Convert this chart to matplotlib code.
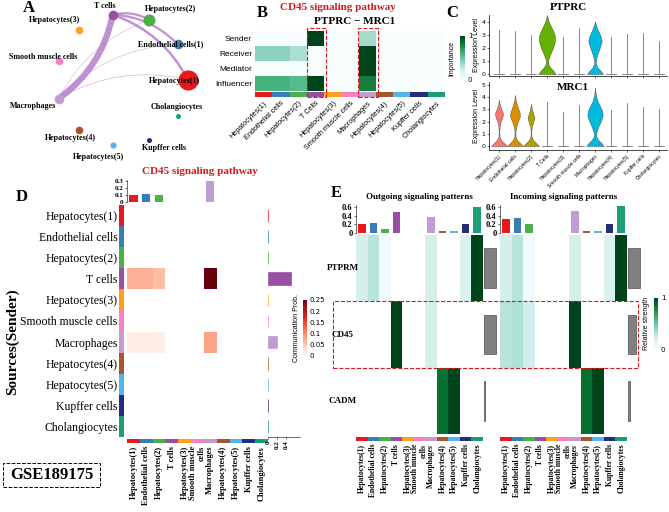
import numpy as np
import matplotlib
import matplotlib.pyplot as plt
from matplotlib.patches import Rectangle, FancyArrowPatch
from matplotlib.cm import ScalarMappable
from matplotlib.colors import Normalize

W, H = 669, 512
SERIF = 'Liberation Serif'
SANS = 'Liberation Sans'

# ---- shared cell types ----
cells = ['Hepatocytes(1)', 'Endothelial cells', 'Hepatocytes(2)', 'T cells', 'Hepatocytes(3)',
         'Smooth muscle cells', 'Macrophages', 'Hepatocytes(4)', 'Hepatocytes(5)', 'Kupffer cells',
         'Cholangiocytes']
cell_colors = ['#E41A1C', '#377EB8', '#4DAF4A', '#984EA3', '#FF9F1C', '#F781BF', '#C29BD2',
               '#A65628', '#56B4E9', '#222E78', '#1B9E77']
col_labels = ['Hepatocytes(1)', 'Endothelial cells', 'Hepatocytes(2)', 'T cells', 'Hepatocytes(3)',
              'Smooth muscle\ncells', 'Macrophages', 'Hepatocytes(4)', 'Hepatocytes(5)', 'Kupffer cells',
              'Cholangiocytes']

# ---- A: network ----
net_order = ['Hepatocytes(1)', 'Cholangiocytes', 'Kupffer cells', 'Hepatocytes(5)', 'Hepatocytes(4)',
             'Macrophages', 'Smooth muscle cells', 'Hepatocytes(3)', 'T cells', 'Hepatocytes(2)',
             'Endothelial cells']
node_size = [210, 48, 75, 48, 30, 30, 48, 30, 20, 13, 13]
edges = [('T cells', 'Macrophages', 4.5), ('T cells', 'Hepatocytes(2)', 1.6),
         ('T cells', 'Endothelial cells', 1.6), ('T cells', 'Hepatocytes(1)', 1.8),
         ('Macrophages', 'Hepatocytes(2)', 0.5), ('Macrophages', 'Endothelial cells', 0.5),
         ('Macrophages', 'Hepatocytes(1)', 0.6)]
net_names = {'Endothelial cells': 'Endothelial cells(1)'}
label_off = {'T cells': (-7.5, -9), 'Hepatocytes(2)': (21.5, -11), 'Hepatocytes(3)': (-24, -10),
             'Endothelial cells': (-6.5, 0), 'Smooth muscle cells': (-15.5, -4.5),
             'Hepatocytes(1)': (-13, 1), 'Macrophages': (-25.5, 7.5), 'Cholangiocytes': (-1, -8.7),
             'Hepatocytes(4)': (-8, 8), 'Hepatocytes(5)': (-14.5, 11.5), 'Kupffer cells': (14.5, 8)}

# ---- B: roles heatmap ----
roles = ['Sender', 'Receiver', 'Mediator', 'Influencer']
sender = [0, 0, 0, 1.0, 0, 0, 0.35, 0, 0, 0, 0]
receiver = [0.4, 0.4, 0.33, 0, 0, 0, 1.0, 0, 0, 0, 0]
mediator = [0, 0, 0, 0, 0, 0, 1.0, 0, 0, 0, 0]
influencer = [0.6, 0.6, 0.55, 1.0, 0, 0, 0.8, 0, 0, 0, 0]
B_labels = ['Hepatocytes(1)', 'Endothelial cells', 'Hepatocytes(2)', 'T Cells', 'Hepatocytes(3)',
            'Smooth muscle cells', 'Macrophages', 'Hepatocytes(4)', 'Hepatocytes(5)', 'Kupffer cells',
            'Cholangiocytes']

# ---- C: violins ----
hue = ['#F8766D', '#DB8E00', '#AEA200', '#64B200', '#00BD5C', '#00C1A7', '#00BADE', '#00A6FF',
       '#B385FF', '#EF67EB', '#FF63B6']
ptprc_max = [3.35, 3.3, 3.0, 4.5, 2.8, 3.5, 4.0, 2.8, 3.05, 3.15, 2.5]
mrc1_max = [3.8, 4.2, 3.45, 3.6, 2.8, 3.4, 4.8, 2.95, 3.5, 3.2, 3.0]
ptprc_shapes = {
    3: ([0, 0.25, 0.5, 0.8, 1.1, 1.5, 2.0, 2.5, 2.9, 3.3, 3.7, 4.1, 4.5],
        [0.55, 0.4, 0.2, 0.07, 0.08, 0.2, 0.38, 0.5, 0.5, 0.38, 0.22, 0.08, 0.0]),
    6: ([0, 0.25, 0.5, 0.8, 1.1, 1.5, 2.0, 2.5, 2.9, 3.3, 3.7, 4.0],
        [0.5, 0.35, 0.15, 0.05, 0.06, 0.15, 0.3, 0.42, 0.35, 0.2, 0.07, 0.0]),
}
mrc1_shapes = {
    0: ([0, 0.2, 0.5, 0.8, 1.2, 1.6, 2.0, 2.4, 2.7, 3.0, 3.4, 3.8],
        [0.5, 0.35, 0.12, 0.03, 0.02, 0.04, 0.1, 0.22, 0.25, 0.15, 0.05, 0.0]),
    1: ([0, 0.2, 0.5, 0.8, 1.2, 1.6, 2.0, 2.4, 2.7, 3.0, 3.4, 3.8, 4.2],
        [0.5, 0.35, 0.12, 0.03, 0.03, 0.08, 0.18, 0.3, 0.3, 0.22, 0.12, 0.04, 0.0]),
    2: ([0, 0.2, 0.5, 0.8, 1.2, 1.6, 2.0, 2.3, 2.6, 3.0, 3.45],
        [0.5, 0.35, 0.12, 0.03, 0.02, 0.05, 0.15, 0.22, 0.15, 0.06, 0.0]),
    6: ([0, 0.25, 0.5, 0.8, 1.1, 1.5, 2.0, 2.5, 2.9, 3.3, 3.7, 4.2, 4.8],
        [0.55, 0.4, 0.2, 0.07, 0.08, 0.18, 0.35, 0.48, 0.45, 0.3, 0.15, 0.05, 0.0]),
}

# ---- D: communication probability ----
D_tcell_row = [0.07, 0.07, 0.06, 0, 0, 0, 0.25, 0, 0, 0, 0]
D_macro_row = [0.012, 0.012, 0.01, 0, 0, 0, 0.08, 0, 0, 0, 0]
D_top = [0.1, 0.11, 0.1, 0.003, 0.003, 0.003, 0.3, 0.003, 0.003, 0.003, 0.003]
D_right = [0.005, 0.005, 0.005, 0.5, 0.005, 0.005, 0.19, 0.005, 0.005, 0.005, 0.005]

# ---- E: signaling patterns ----
patterns = ['PTPRM', 'CD45', 'CADM']
out_ptprm = [0.2, 0.3, 0.05, 0, 0, 0, 0.2, 0, 0, 0.18, 1.0]
out_cd45 = [0, 0, 0, 1.0, 0, 0, 0.2, 0, 0, 0, 0]
out_cadm = [0, 0, 0, 0, 0, 0, 0, 0.85, 1.0, 0, 0]
in_ptprm = [0.2, 0.3, 0.05, 0, 0, 0, 0.2, 0, 0, 0.18, 1.0]
in_cd45 = [0.3, 0.32, 0.22, 0, 0, 0, 1.0, 0, 0, 0, 0]
in_cadm = [0, 0, 0, 0, 0, 0, 0, 0.85, 1.0, 0, 0]
out_top = [0.2, 0.23, 0.1, 0.48, 0.01, 0.01, 0.37, 0.04, 0.04, 0.2, 0.6]
in_top = [0.33, 0.35, 0.2, 0.01, 0.01, 0.01, 0.5, 0.04, 0.04, 0.2, 0.62]
out_side = [1.0, 1.0, 0.12]
in_side = [1.0, 0.65, 0.2]

fig = plt.figure(figsize=(6.69, 5.12), dpi=100)


def pax(x0, y0, x1, y1):
    return fig.add_axes([x0 / W, 1 - y1 / H, (x1 - x0) / W, (y1 - y0) / H])


def ftxt(x, y, s, **kw):
    fig.text(x / W, 1 - y / H, s, **kw)


def frect(x0, y0, x1, y1, **kw):
    fig.add_artist(Rectangle((x0 / W, 1 - y1 / H), (x1 - x0) / W, (y1 - y0) / H,
                             transform=fig.transFigure, fill=False, **kw))


def strip(ax, vertical=False):
    for i, c in enumerate(cell_colors):
        if vertical:
            ax.barh(i, 1, height=1, color=c)
        else:
            ax.bar(i, 1, width=1, color=c)
    if vertical:
        ax.set_ylim(10.5, -0.5)
        ax.set_xlim(0, 1)
    else:
        ax.set_xlim(-0.5, 10.5)
        ax.set_ylim(0, 1)
    for s in ax.spines.values():
        s.set_visible(False)
    ax.set_xticks([])
    ax.set_yticks([])


def bold_labels(ax, size=6):
    ax.set_xticks(range(11))
    ax.set_xticklabels(col_labels, rotation=90, fontsize=size, fontfamily=SERIF, fontweight='bold',
                       va='top', ha='center', multialignment='right')
    ax.tick_params(axis='x', length=0, pad=2)


def colorbar(rect, cmap, vmin, vmax, ticks):
    cax = pax(*rect)
    cb = fig.colorbar(ScalarMappable(Normalize(vmin, vmax), cmap), cax=cax, ticks=ticks)
    cax.tick_params(labelsize=5, length=0, pad=2)
    cb.outline.set_visible(False)
    return cb


# ================= A =================
axA = pax(0, 0, 230, 165)
axA.set_xlim(0, 230)
axA.set_ylim(165, 0)
axA.axis('off')
pos = {}
for k, name in enumerate(net_order):
    ang = 2 * np.pi * k / len(net_order)
    pos[name] = (122 + 66 * np.cos(ang), 80 + 66 * np.sin(ang))
for src, dst, lw in edges:
    p = FancyArrowPatch(pos[src], pos[dst], connectionstyle='arc3,rad=-0.2', arrowstyle='-',
                        color='#B57FCB', lw=lw, alpha=0.85 if lw > 1 else 0.5, zorder=1)
    axA.add_patch(p)
for i, name in enumerate(cells):
    x, y = pos[name]
    axA.scatter(x, y, s=node_size[i], color=cell_colors[i], zorder=3, lw=0)
    dx, dy = label_off[name]
    axA.text(x + dx, y + dy, net_names.get(name, name), ha='center', va='center', fontsize=5.8,
             fontfamily=SERIF, fontweight='bold', zorder=4)
ftxt(29, 8, 'A', fontsize=12, fontfamily=SERIF, fontweight='bold', ha='center', va='center')

# ================= B =================
axB = pax(255, 31, 445, 91)
axB.imshow(np.array([sender, receiver, mediator, influencer]), cmap='BuGn', vmin=0, vmax=1,
           aspect='auto', interpolation='nearest')
axB.set_xticks([])
axB.set_yticks(range(4))
axB.set_yticklabels(roles, fontsize=6, fontfamily=SANS)
axB.tick_params(axis='y', length=0, pad=2)
for s in axB.spines.values():
    s.set_visible(False)
axBs = pax(255, 92, 445, 97)
strip(axBs)
axBs.set_xticks(range(11))
axBs.set_xticklabels(B_labels, rotation=45, ha='right', rotation_mode='anchor', fontsize=5.2,
                     fontfamily=SANS)
axBs.tick_params(axis='x', length=0, pad=2)
frect(307, 28, 326, 97, ec='#D7191C', ls='--', lw=0.8)
frect(358, 28, 378, 97, ec='#D7191C', ls='--', lw=0.8)
ftxt(338, 8, 'CD45 signaling pathway', color='#D7191C', fontsize=8, fontfamily=SERIF,
     fontweight='bold', ha='center', va='center')
ftxt(355, 21, 'PTPRC − MRC1', fontsize=8, fontfamily=SERIF, fontweight='bold', ha='center', va='center')
ftxt(262, 13, 'B', fontsize=12, fontfamily=SERIF, fontweight='bold', ha='center', va='center')
colorbar((460, 36, 465, 80), 'BuGn', 0, 1, [0, 1])
ftxt(452, 58, 'Importance', rotation=90, fontsize=5, fontfamily=SANS, ha='center', va='center')


# ================= C =================
def violins(ax, maxes, shapes, ylim, ticks):
    for i in range(11):
        if i in shapes:
            yy, ww = shapes[i]
            ww = np.array(ww)
            ax.fill_betweenx(yy, i - ww, i + ww, color=hue[i], ec='#444444', lw=0.3)
        else:
            ax.plot([i, i], [0, maxes[i]], color='#555555', lw=0.5)
            ax.plot([i - 0.3, i + 0.3], [0, 0], color='#555555', lw=0.5)
    ax.set_xlim(-0.625, 10.5)
    ax.set_ylim(*ylim)
    ax.set_yticks(ticks)
    ax.tick_params(labelsize=4.5, length=1.5, width=0.4, pad=1)
    for s in ['top', 'right']:
        ax.spines[s].set_visible(False)
    for s in ['left', 'bottom']:
        ax.spines[s].set_linewidth(0.5)
    ax.set_xticks(range(11))
    ax.set_ylabel('Expression Level', fontsize=5, fontfamily=SANS, labelpad=1)


axC1 = pax(489, 15, 667, 76)
violins(axC1, ptprc_max, ptprc_shapes, (-0.15, 4.5), [0, 1, 2, 3, 4])
axC1.set_xticklabels([])
axC2 = pax(489, 82, 667, 150)
violins(axC2, mrc1_max, mrc1_shapes, (-0.33, 5.25), [0, 1, 2, 3, 4, 5])
axC2.set_xticklabels(B_labels, rotation=45, ha='right', rotation_mode='anchor', fontsize=3.5,
                     fontfamily=SANS)
ftxt(568, 8, 'PTPRC', fontsize=8, fontfamily=SERIF, fontweight='bold', ha='center', va='center')
ftxt(573, 88, 'MRC1', fontsize=8, fontfamily=SERIF, fontweight='bold', ha='center', va='center')
ftxt(452, 13, 'C', fontsize=12, fontfamily=SERIF, fontweight='bold', ha='center', va='center')

# ================= D =================
D = np.zeros((11, 11))
D[cells.index('T cells')] = D_tcell_row
D[cells.index('Macrophages')] = D_macro_row
cmapR = matplotlib.colormaps['Reds'].copy()
cmapR.set_bad('white')
axD = pax(127, 205, 268, 437)
axD.imshow(np.ma.masked_equal(D, 0), cmap=cmapR, vmin=0, vmax=0.25, aspect='auto',
           interpolation='nearest')
axD.set_xticks([])
axD.set_yticks([])
for s in axD.spines.values():
    s.set_visible(False)
axDr = pax(119, 205, 124, 437)
strip(axDr, vertical=True)
axDr.set_yticks(range(11))
axDr.set_yticklabels(cells, fontsize=8.5, fontfamily=SERIF)
axDr.tick_params(axis='y', length=0, pad=1)
axDc = pax(127, 439, 268, 443)
strip(axDc)
bold_labels(axDc, 6)
axDt = pax(127, 180, 268, 202)
axDt.bar(range(11), D_top, width=0.65, color=cell_colors)
axDt.set_xlim(-0.5, 10.5)
axDt.set_ylim(0, 0.32)
axDt.set_yticks([0, 0.1, 0.2, 0.3])
axDt.set_yticklabels(['0', '0.1', '0.2', '0.3'], fontsize=5, fontfamily=SERIF, fontweight='bold')
axDt.tick_params(axis='y', length=1.5, width=0.4, pad=1)
axDt.set_xticks([])
for s in ['top', 'right', 'bottom']:
    axDt.spines[s].set_visible(False)
axDt.spines['left'].set_linewidth(0.4)
axDrb = pax(268, 205, 300, 437)
axDrb.barh(range(11), D_right, height=0.6, color=cell_colors, edgecolor=cell_colors, lw=0.5)
axDrb.set_ylim(10.5, -0.5)
axDrb.set_xlim(0, 0.71)
axDrb.set_xticks([0, 0.2, 0.4])
axDrb.set_xticklabels(['0', '0.2', '0.4'], rotation=90, fontsize=5, fontfamily=SERIF, fontweight='bold')
axDrb.tick_params(axis='x', length=1.5, width=0.4, pad=1)
axDrb.set_yticks([])
for s in ['top', 'right', 'left']:
    axDrb.spines[s].set_visible(False)
axDrb.spines['bottom'].set_linewidth(0.4)
ftxt(200, 172, 'CD45 signaling pathway', color='#D7191C', fontsize=8, fontfamily=SERIF,
     fontweight='bold', ha='center', va='center')
ftxt(22, 197, 'D', fontsize=12, fontfamily=SERIF, fontweight='bold', ha='center', va='center')
ftxt(12, 342, 'Sources(Sender)', rotation=90, fontsize=11, fontfamily=SERIF, fontweight='bold',
     ha='center', va='center')
cbD = colorbar((303, 300, 307, 356), cmapR, 0, 0.25, [0, 0.05, 0.1, 0.15, 0.2, 0.25])
cbD.ax.set_yticklabels(['0', '0.05', '0.1', '0.15', '0.2', '0.25'])
ftxt(296, 328, 'Communication Prob.', rotation=90, fontsize=5, fontfamily=SANS, ha='center', va='center')
frect(3, 463, 100, 487, ec='black', ls='--', lw=0.7)
ftxt(51.5, 475, 'GSE189175', fontsize=12, fontfamily=SERIF, fontweight='bold', ha='center', va='center')

# ================= E =================
cmapG = matplotlib.colormaps['BuGn'].copy()
cmapG.set_bad('white')


def pattern_block(x0, x1, mat, top, side, title):
    ax = pax(x0, 235, x1, 434)
    ax.imshow(np.ma.masked_equal(np.array(mat), 0), cmap=cmapG, vmin=0, vmax=1, aspect='auto',
              interpolation='nearest')
    ax.set_xticks([])
    ax.set_yticks([])
    for s in ax.spines.values():
        s.set_visible(False)
    axs = pax(x0, 437, x1, 441)
    strip(axs)
    bold_labels(axs, 5.5)
    axt = pax(x0, 205, x1, 233)
    axt.bar(range(11), top, width=0.65, color=cell_colors)
    axt.set_xlim(-0.5, 10.5)
    axt.set_ylim(0, 0.65)
    axt.set_yticks([0, 0.2, 0.4, 0.6])
    axt.set_yticklabels(['0', '0.2', '0.4', '0.6'], fontsize=6, fontfamily=SERIF, fontweight='bold')
    axt.tick_params(axis='y', length=1.5, width=0.4, pad=1)
    axt.set_xticks([])
    for s in ['top', 'right', 'bottom']:
        axt.spines[s].set_visible(False)
    axt.spines['left'].set_linewidth(0.4)
    axt.set_title(title, fontsize=6.5, fontfamily=SERIF, fontweight='bold', pad=4)
    axg = pax(x1 + 1, 235, x1 + 17, 434)
    axg.barh(range(3), side, height=0.6, color='#808080', edgecolor='#333333', lw=0.4)
    axg.set_ylim(2.5, -0.5)
    axg.set_xlim(0, 1.3)
    axg.axis('off')


pattern_block(356, 483, [out_ptprm, out_cd45, out_cadm], out_top, out_side, 'Outgoing signaling patterns')
pattern_block(500, 627, [in_ptprm, in_cd45, in_cadm], in_top, in_side, 'Incoming signaling patterns')
for name, yc in zip(patterns, [268, 335, 401]):
    ftxt(343, yc, name, fontsize=6.5, fontfamily=SERIF, fontweight='bold', ha='center', va='center')
frect(333, 301, 638, 368, ec='#D7191C', ls='--', lw=0.8)
ftxt(336, 193, 'E', fontsize=12, fontfamily=SERIF, fontweight='bold', ha='center', va='center')
colorbar((654, 298, 658, 349), cmapG, 0, 1, [0, 1])
ftxt(647, 323, 'Relative strength', rotation=90, fontsize=5, fontfamily=SANS, ha='center', va='center')

fig.savefig('out.png', dpi=100)
